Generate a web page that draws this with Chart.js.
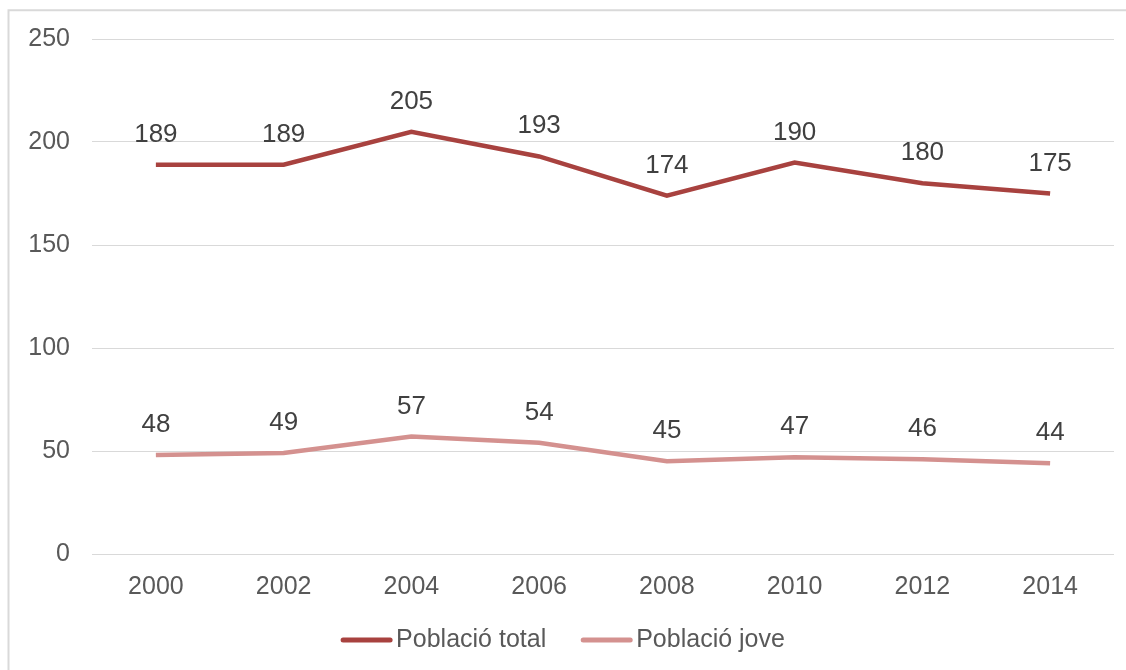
<!DOCTYPE html>
<html>
<head>
<meta charset="utf-8">
<script src="https://cdn.jsdelivr.net/npm/chart.js@4"></script>
<style>
  html, body { margin: 0; padding: 0; background: #fff; }
  #wrap { width: 1126px; height: 670px; position: relative; }
</style>
</head>
<body>
<div id="wrap"><canvas id="grafic"></canvas></div>
<script>
const anys = ['2000', '2002', '2004', '2006', '2008', '2010', '2012', '2014'];
const poblacioTotal = [189, 189, 205, 193, 174, 190, 180, 175];
const poblacioJove = [48, 49, 57, 54, 45, 47, 46, 44];
const ticksY = [0, 50, 100, 150, 200, 250];

const FONT = 'Liberation Sans, Arial, sans-serif';

// marc gris (només esquerra i dalt)
const marc = {
    id: 'marc',
    beforeDraw(chart) {
        const ctx = chart.ctx;
        ctx.save();
        ctx.strokeStyle = '#d9d9d9';
        ctx.lineWidth = 2;
        ctx.beginPath();
        ctx.moveTo(8.5, 670);
        ctx.lineTo(8.5, 10.3);
        ctx.lineTo(1126, 10.3);
        ctx.stroke();
        ctx.restore();
    }
};

// etiquetes de valor sobre cada punt
const etiquetes = {
    id: 'etiquetes',
    afterDatasetsDraw(chart) {
        const ctx = chart.ctx;
        ctx.save();
        ctx.font = '26px ' + FONT;
        ctx.fillStyle = '#404040';
        ctx.textAlign = 'center';
        ctx.textBaseline = 'alphabetic';
        chart.data.datasets.forEach((ds, i) => {
            chart.getDatasetMeta(i).data.forEach((p, j) => {
                ctx.fillText(ds.data[j], p.x, p.y - 23);
            });
        });
        ctx.restore();
    }
};

// llegenda a mida
const llegenda = {
    id: 'llegenda',
    afterDraw(chart) {
        const ctx = chart.ctx;
        ctx.save();
        ctx.font = '25px ' + FONT;
        const linia = 51, gap = 4, sep = 35;
        const items = chart.data.datasets.map(ds => ({ text: ds.label, color: ds.borderColor, w: ctx.measureText(ds.label).width }));
        let total = 0;
        items.forEach((it, i) => { total += linia + gap + it.w + (i < items.length - 1 ? sep : 0); });
        let x = chart.width / 2 - total / 2;
        const y = 640;
        items.forEach(it => {
            ctx.strokeStyle = it.color;
            ctx.lineWidth = 5;
            ctx.lineCap = 'round';
            ctx.beginPath();
            ctx.moveTo(x + 2, y);
            ctx.lineTo(x + linia - 2, y);
            ctx.stroke();
            x += linia + gap;
            ctx.fillStyle = '#595959';
            ctx.textBaseline = 'middle';
            ctx.textAlign = 'left';
            ctx.fillText(it.text, x, y);
            x += it.w + sep;
        });
        ctx.restore();
    }
};

new Chart(document.getElementById('grafic'), {
    type: 'line',
    data: {
        labels: anys,
        datasets: [{
            label: 'Població total',
            data: poblacioTotal,
            borderColor: '#A8423F',
            backgroundColor: '#A8423F',
            borderWidth: 4.5,
            pointRadius: 0,
            tension: 0
        }, {
            label: 'Població jove',
            data: poblacioJove,
            borderColor: '#D4918F',
            backgroundColor: '#D4918F',
            borderWidth: 4.5,
            pointRadius: 0,
            tension: 0
        }]
    },
    options: {
        responsive: true,
        maintainAspectRatio: false,
        animation: false,
        layout: { padding: { top: 39, right: 12, left: 0, bottom: 60 } },
        plugins: {
            legend: { display: false },
            tooltip: { enabled: false }
        },
        scales: {
            x: {
                offset: true,
                grid: { display: false, drawTicks: false, offset: true },
                border: { display: false },
                ticks: { color: '#595959', font: { size: 25, family: FONT }, padding: 18, maxRotation: 0 },
                afterFit(scale) { scale.height = 56; }
            },
            y: {
                min: 0,
                max: 250,
                afterBuildTicks(scale) { scale.ticks = ticksY.map(v => ({ value: v })); },
                grid: { color: '#d9d9d9', lineWidth: 1, drawTicks: false },
                border: { display: false },
                ticks: { color: '#595959', font: { size: 25, family: FONT }, padding: 22 },
                afterFit(scale) { scale.width = 92; }
            }
        }
    },
    plugins: [marc, etiquetes, llegenda]
});
</script>
</body>
</html>
